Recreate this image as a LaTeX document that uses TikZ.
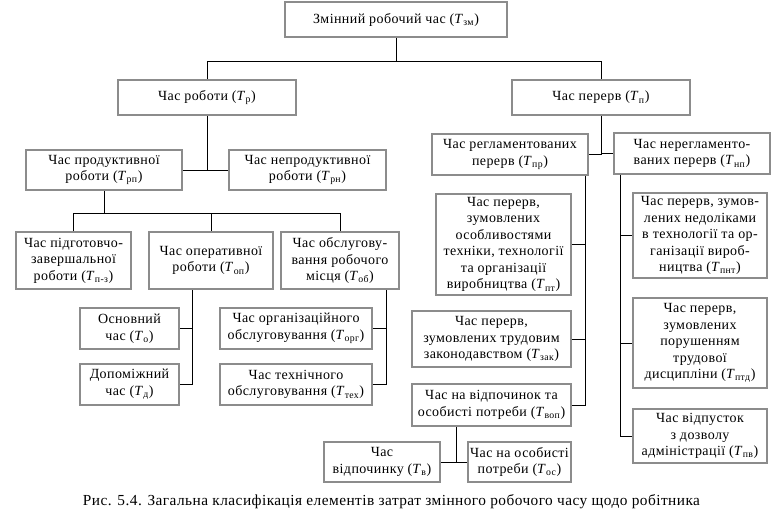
\documentclass[tikz,border=0pt]{standalone}
\usepackage{fontspec}
\setmainfont{Liberation Serif}[LetterSpace=3]
\usepackage{tikz}
\usetikzlibrary{positioning, calc}
\definecolor{boxgray}{HTML}{8C8C8C}
\newcommand{\Tsub}[1]{\textit{T}\textsubscript{#1}}
\tikzstyle{box} = [draw=boxgray, line width=1.6pt, fill=white, align=center, inner sep=0pt, font=\fontsize{10.5}{12.4}\selectfont]
\tikzstyle{link} = [draw=black, line width=0.7pt]
\tikzset{size/.style 2 args={minimum width=#1*0.75pt-1.5pt, minimum height=#2*0.75pt-1.5pt}}

\begin{document}
\begin{tikzpicture}[x=0.75pt, y=-0.75pt]
    \useasboundingbox (0,0) rectangle (773,519);
    \node[box, size={224}{37}] (zm) at (396,19.5) {Змінний робочий час (\Tsub{зм})};
    \node[box, size={180}{37}] (rob) at (207,97.5) {Час роботи (\Tsub{р})};
    \node[box, size={180}{37}] (per) at (601,97.5) {Час перерв (\Tsub{п})};

    \node[box, size={158}{42}] (prod) at (104,170) {Час продуктивної\\роботи (\Tsub{рп})};
    \node[box, size={159}{42}] (neprod) at (307.5,170) {Час непродуктивної\\роботи (\Tsub{рн})};
    \node[box, size={117}{59}] (pz) at (73.5,260.5) {Час підготовчо-\\завершальної\\роботи (\Tsub{п-з})};
    \node[box, size={126}{59}] (op) at (211,260.5) {Час оперативної\\роботи (\Tsub{оп})};
    \node[box, size={120}{59}] (ob) at (340,260.5) {Час обслугову-\\вання робочого\\місця (\Tsub{об})};
    \node[box, size={101}{43}] (osn) at (129.5,328.5) {Основний\\час (\Tsub{о})};
    \node[box, size={101}{43}] (dop) at (129.5,384.5) {Допоміжний\\час (\Tsub{д})};
    \node[box, size={154}{43}] (org) at (296,328.5) {Час організаційного\\обслуговування (\Tsub{орг})};
    \node[box, size={154}{43}] (tex) at (296,384.5) {Час технічного\\обслуговування (\Tsub{тех})};

    \node[box, size={158}{43}] (reg) at (510,154.5) {Час регламентованих\\перерв (\Tsub{пр})};
    \node[box, size={158}{43}] (nereg) at (692,153.5) {Час нерегламенто-\\ваних перерв (\Tsub{нп})};
    \node[box, size={137}{103}] (osob) at (503.5,244.5) {Час перерв,\\зумовлених\\особливостями\\техніки, технології\\та організації\\виробництва (\Tsub{пт})};
    \node[box, size={161}{58}] (trud) at (491.5,339) {Час перерв,\\зумовлених трудовим\\законодавством (\Tsub{зак})};
    \node[box, size={161}{44}] (vidp) at (491.5,405) {Час на відпочинок та\\особисті потреби (\Tsub{воп})};
    \node[box, size={118}{42}] (vpch) at (382,462) {Час\\відпочинку (\Tsub{в})};
    \node[box, size={105}{42}] (osp) at (519.5,462) {Час на особисті\\потреби (\Tsub{ос})};
    \node[box, size={136}{87}] (ned) at (700,235.5) {Час перерв, зумов-\\лених недоліками\\в технології та ор-\\ганізації вироб-\\ництва (\Tsub{пнт})};
    \node[box, size={136}{92}] (por) at (700,343) {Час перерв,\\зумовлених\\порушенням\\трудової\\дисципліни (\Tsub{птд})};
    \node[box, size={136}{56}] (vids) at (700,436) {Час відпусток\\з дозволу\\адміністрації (\Tsub{пв})};

    \node[font=\fontsize{11.5}{13}\selectfont] (cap) at (391.5,502) {Рис. 5.4. Загальна класифікація елементів затрат змінного робочого часу щодо робітника};

    \draw[link] (zm.south) -- ++(0,23) -| (rob.north);
    \draw[link] (zm.south) ++(0,23) -| (per.north);
    \draw[link] (rob.south) |- (prod.east);
    \draw[link] (rob.south) |- (neprod.west);
    \draw[link] (prod.south) -- ++(0,22) -| (pz.north);
    \draw[link] (prod.south) ++(0,22) -| (ob.north);
    \draw[link] (prod.south) ++(0,22) -| (op.north);
    \draw[link] ($(op.south)+(-19,0)$) |- (dop.east);
    \draw[link] ($(op.south)+(-19,0)$) |- (osn.east);
    \draw[link] ($(ob.south east)+(-14,0)$) |- (tex.east);
    \draw[link] ($(ob.south east)+(-14,0)$) |- (org.east);

    \draw[link] (per.south) |- (reg.east);
    \draw[link] (per.south) |- (nereg.west);
    \draw[link] ($(reg.south east)+(-4,0)$) |- (vidp.east);
    \draw[link] ($(reg.south east)+(-4,0)$) |- (trud.east);
    \draw[link] ($(reg.south east)+(-4,0)$) |- (osob.east);
    \draw[link] ($(nereg.south west)+(8,0)$) |- (vids.west);
    \draw[link] ($(nereg.south west)+(8,0)$) |- (por.west);
    \draw[link] ($(nereg.south west)+(8,0)$) |- (ned.west);
    \draw[link] ($(vidp.south)+(-35,0)$) |- (vpch.east);
    \draw[link] ($(vidp.south)+(-35,0)$) |- (osp.west);
\end{tikzpicture}
\end{document}
